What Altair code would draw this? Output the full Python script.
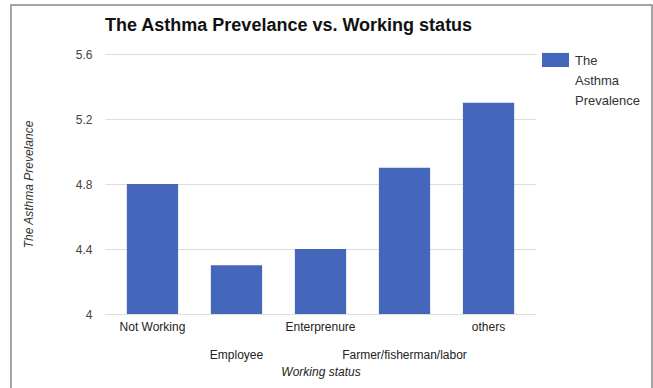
import json
import altair as alt
import pandas as pd

categories = ["Not Working", "Employee", "Enterprenure", "Farmer/fisherman/labor", "others"]
values = [4.8, 4.3, 4.4, 4.9, 5.3]
series_name = "The Asthma Prevalence"
y_ticks = [4, 4.4, 4.8, 5.2, 5.6]

df = pd.DataFrame({"status": categories, "value": values, "series": [series_name] * len(categories)})

stagger = json.dumps(categories[1::2])
label_expr = f"indexof({stagger}, datum.value) >= 0 ? ['', datum.label] : datum.label"

FONT = "Liberation Sans"

bars = alt.Chart(df).mark_bar(color="#4466BB", clip=True).encode(
    x=alt.X(
        "status:N",
        sort=categories,
        scale=alt.Scale(paddingInner=0.39, paddingOuter=0.26),
        axis=alt.Axis(
            title="Working status",
            labelAngle=0,
            labelExpr=label_expr,
            labelLineHeight=28,
            labelPadding=7,
            labelFontSize=12,
            labelColor="#222222",
            labelFont=FONT,
            ticks=False,
            domain=False,
            titleFont=FONT,
            titleFontSize=12,
            titleFontStyle="italic",
            titleFontWeight="normal",
            titleColor="#222222",
            titleY=57,
            titleBaseline="middle",
        ),
    ),
    y=alt.Y(
        "value:Q",
        scale=alt.Scale(domain=[4, 5.6], zero=False, nice=False),
        axis=alt.Axis(
            title="The Asthma Prevelance",
            values=y_ticks,
            format="~g",
            labelFontSize=12,
            labelColor="#444444",
            labelFont=FONT,
            labelPadding=13,
            ticks=False,
            domain=False,
            gridColor="#dddddd",
            gridWidth=1,
            titleFont=FONT,
            titleFontSize=12,
            titleFontStyle="italic",
            titleFontWeight="normal",
            titleColor="#333333",
            titleX=-77,
            titleY=130,
            titleAngle=-90,
            titleAlign="center",
            titleBaseline="middle",
        ),
    ),
    color=alt.Color(
        "series:N",
        scale=alt.Scale(range=["#4466BB"]),
        legend=alt.Legend(
            title=None,
            orient="none",
            legendX=437,
            legendY=-12,
            symbolType="M-1,-0.19H1V0.85H-1Z",
            symbolSize=729,
            symbolStrokeWidth=0,
            symbolOpacity=1,
            labelExpr="''",
            labelFontSize=12,
            labelFont=FONT,
        ),
    ),
)

legend_text = alt.Chart(pd.DataFrame({"series": [series_name]})).transform_calculate(
    lines="split(datum.series, ' ')"
).mark_text(
    align="left", baseline="top", font=FONT, fontSize=13, lineHeight=20, color="#333333"
).encode(
    text="lines:N", x=alt.value(470), y=alt.value(1)
)

frame = alt.Chart(alt.Data(values=[{}])).mark_rect(
    fill=None, stroke="#888888", strokeWidth=1.5
).encode(
    x=alt.value(-94), x2=alt.value(547), y=alt.value(-49), y2=alt.value(345)
)

chart = alt.layer(frame, bars, legend_text).properties(
    width=431,
    height=260,
    padding={"left": 105, "top": 54, "right": 117, "bottom": 74},
    autosize=alt.AutoSizeParams(type="none"),
    title=alt.TitleParams(
        "The Asthma Prevelance vs. Working status",
        anchor="start",
        frame="group",
        font=FONT,
        fontSize=18,
        fontWeight="bold",
        color="#111111",
        baseline="middle",
        offset=0,
        dy=40,
    ),
).configure(background="white").configure_view(strokeWidth=0, stroke="transparent")

chart.save("out.html", embed_options={"renderer": "svg", "actions": False})
